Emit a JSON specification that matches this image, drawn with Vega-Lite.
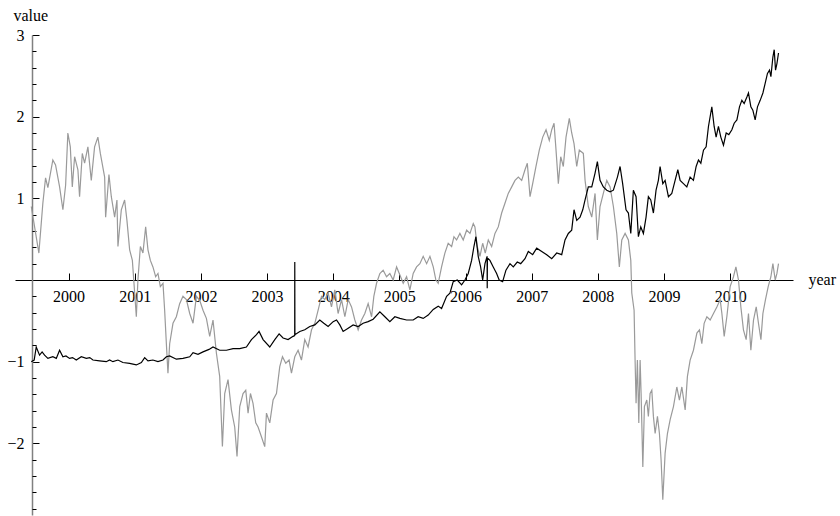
{
  "$schema": "https://vega.github.io/schema/vega-lite/v6.json",
  "autosize": "none",
  "width": 778,
  "height": 480,
  "padding": {"left": 15, "top": 35, "right": 47, "bottom": 1},
  "background": "white",
  "config": {"view": {"stroke": null}, "font": "Liberation Serif"},
  "datasets": {
    "gray": [
      {"x":1999.436,"v":0.90},{"x":1999.551,"v":0.33},{"x":1999.611,"v":0.94},{"x":1999.652,"v":1.25},{"x":1999.687,"v":1.13},{"x":1999.762,"v":1.47},{"x":1999.803,"v":1.41},{"x":1999.864,"v":1.14},{"x":1999.914,"v":0.86},{"x":1999.955,"v":1.16},{"x":1999.989,"v":1.80},{"x":2000.026,"v":1.63},{"x":2000.056,"v":1.14},{"x":2000.091,"v":1.51},{"x":2000.141,"v":1.35},{"x":2000.166,"v":1.02},{"x":2000.207,"v":1.55},{"x":2000.242,"v":1.43},{"x":2000.292,"v":1.63},{"x":2000.343,"v":1.22},{"x":2000.393,"v":1.63},{"x":2000.443,"v":1.75},{"x":2000.480,"v":1.55},{"x":2000.545,"v":1.26},{"x":2000.560,"v":0.77},{"x":2000.610,"v":1.29},{"x":2000.646,"v":1.02},{"x":2000.696,"v":0.77},{"x":2000.731,"v":0.98},{"x":2000.746,"v":0.41},{"x":2000.797,"v":0.86},{"x":2000.847,"v":0.98},{"x":2000.882,"v":0.73},{"x":2000.923,"v":0.37},{"x":2000.964,"v":0.24},{"x":2000.999,"v":-0.16},{"x":2001.024,"v":-0.45},{"x":2001.048,"v":0.00},{"x":2001.085,"v":0.41},{"x":2001.124,"v":0.33},{"x":2001.165,"v":0.65},{"x":2001.200,"v":0.37},{"x":2001.236,"v":0.24},{"x":2001.275,"v":0.16},{"x":2001.316,"v":0.04},{"x":2001.351,"v":0.08},{"x":2001.387,"v":-0.08},{"x":2001.427,"v":-0.04},{"x":2001.452,"v":-0.37},{"x":2001.478,"v":-0.78},{"x":2001.502,"v":-1.14},{"x":2001.528,"v":-0.78},{"x":2001.578,"v":-0.53},{"x":2001.629,"v":-0.45},{"x":2001.679,"v":-0.29},{"x":2001.729,"v":-0.20},{"x":2001.781,"v":-0.24},{"x":2001.831,"v":-0.41},{"x":2001.881,"v":-0.53},{"x":2001.932,"v":-0.20},{"x":2001.982,"v":-0.25},{"x":2002.032,"v":-0.37},{"x":2002.083,"v":-0.47},{"x":2002.133,"v":-0.69},{"x":2002.183,"v":-0.49},{"x":2002.235,"v":-0.90},{"x":2002.284,"v":-1.18},{"x":2002.325,"v":-2.04},{"x":2002.360,"v":-1.39},{"x":2002.410,"v":-1.22},{"x":2002.461,"v":-1.59},{"x":2002.511,"v":-1.80},{"x":2002.546,"v":-2.16},{"x":2002.587,"v":-1.55},{"x":2002.637,"v":-1.39},{"x":2002.678,"v":-1.35},{"x":2002.713,"v":-1.63},{"x":2002.749,"v":-1.39},{"x":2002.788,"v":-1.51},{"x":2002.829,"v":-1.75},{"x":2002.864,"v":-1.80},{"x":2002.915,"v":-1.92},{"x":2002.965,"v":-2.04},{"x":2002.991,"v":-1.63},{"x":2003.041,"v":-1.75},{"x":2003.091,"v":-1.47},{"x":2003.142,"v":-1.39},{"x":2003.192,"v":-1.06},{"x":2003.233,"v":-0.94},{"x":2003.283,"v":-1.02},{"x":2003.333,"v":-0.98},{"x":2003.369,"v":-1.14},{"x":2003.419,"v":-0.94},{"x":2003.469,"v":-0.86},{"x":2003.520,"v":-0.98},{"x":2003.570,"v":-0.73},{"x":2003.620,"v":-0.82},{"x":2003.672,"v":-0.61},{"x":2003.722,"v":-0.53},{"x":2003.772,"v":-0.37},{"x":2003.823,"v":-0.20},{"x":2003.873,"v":-0.24},{"x":2003.923,"v":-0.16},{"x":2003.974,"v":-0.33},{"x":2004.024,"v":-0.12},{"x":2004.074,"v":-0.41},{"x":2004.126,"v":-0.24},{"x":2004.176,"v":-0.45},{"x":2004.226,"v":-0.24},{"x":2004.277,"v":-0.33},{"x":2004.327,"v":-0.49},{"x":2004.377,"v":-0.61},{"x":2004.428,"v":-0.49},{"x":2004.478,"v":-0.41},{"x":2004.528,"v":-0.29},{"x":2004.580,"v":-0.45},{"x":2004.614,"v":-0.20},{"x":2004.655,"v":-0.04},{"x":2004.705,"v":0.08},{"x":2004.755,"v":0.12},{"x":2004.806,"v":0.04},{"x":2004.856,"v":0.08},{"x":2004.906,"v":0.00},{"x":2004.958,"v":0.16},{"x":2005.008,"v":0.06},{"x":2005.058,"v":-0.04},{"x":2005.109,"v":0.04},{"x":2005.159,"v":-0.12},{"x":2005.209,"v":0.08},{"x":2005.260,"v":0.16},{"x":2005.310,"v":0.20},{"x":2005.360,"v":0.29},{"x":2005.412,"v":0.20},{"x":2005.462,"v":0.29},{"x":2005.512,"v":0.16},{"x":2005.552,"v":0.00},{"x":2005.587,"v":-0.04},{"x":2005.638,"v":0.16},{"x":2005.688,"v":0.33},{"x":2005.738,"v":0.45},{"x":2005.790,"v":0.41},{"x":2005.825,"v":0.53},{"x":2005.865,"v":0.49},{"x":2005.915,"v":0.57},{"x":2005.965,"v":0.49},{"x":2006.017,"v":0.61},{"x":2006.067,"v":0.57},{"x":2006.117,"v":0.69},{"x":2006.142,"v":0.65},{"x":2006.177,"v":0.41},{"x":2006.218,"v":0.29},{"x":2006.259,"v":0.45},{"x":2006.298,"v":0.33},{"x":2006.344,"v":0.49},{"x":2006.395,"v":0.41},{"x":2006.445,"v":0.57},{"x":2006.495,"v":0.65},{"x":2006.546,"v":0.82},{"x":2006.596,"v":0.94},{"x":2006.646,"v":1.06},{"x":2006.698,"v":1.14},{"x":2006.748,"v":1.22},{"x":2006.798,"v":1.26},{"x":2006.849,"v":1.22},{"x":2006.899,"v":1.35},{"x":2006.934,"v":1.43},{"x":2006.975,"v":1.02},{"x":2007.015,"v":1.18},{"x":2007.065,"v":1.39},{"x":2007.115,"v":1.59},{"x":2007.167,"v":1.75},{"x":2007.217,"v":1.84},{"x":2007.266,"v":1.71},{"x":2007.303,"v":1.84},{"x":2007.338,"v":1.92},{"x":2007.368,"v":1.59},{"x":2007.403,"v":1.18},{"x":2007.439,"v":1.51},{"x":2007.478,"v":1.39},{"x":2007.519,"v":1.75},{"x":2007.569,"v":1.98},{"x":2007.605,"v":1.80},{"x":2007.640,"v":1.67},{"x":2007.681,"v":1.39},{"x":2007.720,"v":1.59},{"x":2007.781,"v":1.55},{"x":2007.807,"v":1.22},{"x":2007.856,"v":0.90},{"x":2007.908,"v":0.77},{"x":2007.958,"v":1.06},{"x":2007.993,"v":0.49},{"x":2008.033,"v":0.90},{"x":2008.083,"v":1.06},{"x":2008.135,"v":1.22},{"x":2008.185,"v":1.14},{"x":2008.235,"v":0.90},{"x":2008.286,"v":0.57},{"x":2008.325,"v":0.16},{"x":2008.362,"v":0.49},{"x":2008.412,"v":0.57},{"x":2008.462,"v":0.49},{"x":2008.498,"v":0.24},{"x":2008.513,"v":-0.16},{"x":2008.548,"v":-0.37},{"x":2008.563,"v":-0.98},{"x":2008.578,"v":-1.51},{"x":2008.598,"v":-0.98},{"x":2008.619,"v":-1.75},{"x":2008.639,"v":-0.98},{"x":2008.654,"v":-1.39},{"x":2008.680,"v":-2.29},{"x":2008.704,"v":-1.55},{"x":2008.740,"v":-1.47},{"x":2008.764,"v":-1.67},{"x":2008.790,"v":-1.39},{"x":2008.816,"v":-1.35},{"x":2008.840,"v":-1.67},{"x":2008.866,"v":-1.88},{"x":2008.901,"v":-1.67},{"x":2008.931,"v":-1.88},{"x":2008.956,"v":-2.20},{"x":2008.982,"v":-2.69},{"x":2009.017,"v":-2.12},{"x":2009.052,"v":-1.88},{"x":2009.093,"v":-1.71},{"x":2009.143,"v":-1.55},{"x":2009.194,"v":-1.31},{"x":2009.233,"v":-1.47},{"x":2009.270,"v":-1.31},{"x":2009.320,"v":-1.59},{"x":2009.354,"v":-1.18},{"x":2009.395,"v":-0.98},{"x":2009.445,"v":-0.86},{"x":2009.497,"v":-0.65},{"x":2009.536,"v":-0.61},{"x":2009.572,"v":-0.78},{"x":2009.607,"v":-0.53},{"x":2009.648,"v":-0.45},{"x":2009.698,"v":-0.49},{"x":2009.748,"v":-0.41},{"x":2009.799,"v":-0.33},{"x":2009.849,"v":-0.24},{"x":2009.875,"v":-0.41},{"x":2009.910,"v":-0.69},{"x":2009.950,"v":-0.45},{"x":2010.000,"v":-0.08},{"x":2010.050,"v":0.04},{"x":2010.087,"v":0.16},{"x":2010.126,"v":0.00},{"x":2010.162,"v":-0.33},{"x":2010.201,"v":-0.61},{"x":2010.242,"v":-0.73},{"x":2010.277,"v":-0.41},{"x":2010.313,"v":-0.86},{"x":2010.353,"v":-0.49},{"x":2010.394,"v":-0.33},{"x":2010.428,"v":-0.53},{"x":2010.465,"v":-0.73},{"x":2010.495,"v":-0.41},{"x":2010.534,"v":-0.24},{"x":2010.575,"v":-0.08},{"x":2010.616,"v":0.04},{"x":2010.646,"v":0.20},{"x":2010.681,"v":0.00},{"x":2010.707,"v":0.08},{"x":2010.731,"v":0.20}
    ],
    "black": [
      {"x":1999.436,"v":-1.00},{"x":1999.480,"v":-0.98},{"x":1999.511,"v":-0.82},{"x":1999.561,"v":-0.92},{"x":1999.600,"v":-0.88},{"x":1999.637,"v":-0.92},{"x":1999.687,"v":-0.96},{"x":1999.762,"v":-0.94},{"x":1999.814,"v":-0.96},{"x":1999.864,"v":-0.86},{"x":1999.914,"v":-0.94},{"x":1999.960,"v":-0.93},{"x":2000.015,"v":-0.96},{"x":2000.060,"v":-0.95},{"x":2000.116,"v":-0.98},{"x":2000.192,"v":-0.94},{"x":2000.268,"v":-0.96},{"x":2000.320,"v":-0.95},{"x":2000.368,"v":-0.98},{"x":2000.469,"v":-0.99},{"x":2000.570,"v":-1.00},{"x":2000.620,"v":-0.98},{"x":2000.670,"v":-1.00},{"x":2000.746,"v":-0.98},{"x":2000.821,"v":-1.01},{"x":2000.923,"v":-1.02},{"x":2001.024,"v":-1.04},{"x":2001.100,"v":-1.01},{"x":2001.150,"v":-0.95},{"x":2001.200,"v":-0.99},{"x":2001.275,"v":-0.98},{"x":2001.351,"v":-1.00},{"x":2001.427,"v":-0.98},{"x":2001.478,"v":-0.94},{"x":2001.528,"v":-0.93},{"x":2001.629,"v":-0.97},{"x":2001.729,"v":-0.96},{"x":2001.831,"v":-0.94},{"x":2001.881,"v":-0.89},{"x":2001.956,"v":-0.91},{"x":2002.032,"v":-0.88},{"x":2002.123,"v":-0.85},{"x":2002.183,"v":-0.82},{"x":2002.284,"v":-0.86},{"x":2002.386,"v":-0.86},{"x":2002.486,"v":-0.84},{"x":2002.587,"v":-0.84},{"x":2002.688,"v":-0.82},{"x":2002.764,"v":-0.73},{"x":2002.840,"v":-0.67},{"x":2002.879,"v":-0.63},{"x":2002.940,"v":-0.73},{"x":2003.041,"v":-0.82},{"x":2003.117,"v":-0.73},{"x":2003.182,"v":-0.66},{"x":2003.242,"v":-0.71},{"x":2003.318,"v":-0.73},{"x":2003.393,"v":-0.69},{"x":2003.418,"v":-0.68},{"x":2003.419,"v":0.22},{"x":2003.421,"v":-0.67},{"x":2003.495,"v":-0.63},{"x":2003.570,"v":-0.61},{"x":2003.646,"v":-0.57},{"x":2003.722,"v":-0.55},{"x":2003.797,"v":-0.49},{"x":2003.858,"v":-0.53},{"x":2003.923,"v":-0.57},{"x":2003.999,"v":-0.51},{"x":2004.050,"v":-0.49},{"x":2004.100,"v":-0.55},{"x":2004.150,"v":-0.63},{"x":2004.226,"v":-0.59},{"x":2004.301,"v":-0.55},{"x":2004.377,"v":-0.57},{"x":2004.452,"v":-0.53},{"x":2004.528,"v":-0.51},{"x":2004.604,"v":-0.48},{"x":2004.705,"v":-0.39},{"x":2004.781,"v":-0.45},{"x":2004.856,"v":-0.51},{"x":2004.932,"v":-0.45},{"x":2005.008,"v":-0.47},{"x":2005.109,"v":-0.49},{"x":2005.209,"v":-0.49},{"x":2005.284,"v":-0.45},{"x":2005.360,"v":-0.47},{"x":2005.436,"v":-0.43},{"x":2005.512,"v":-0.36},{"x":2005.587,"v":-0.32},{"x":2005.638,"v":-0.35},{"x":2005.714,"v":-0.20},{"x":2005.764,"v":-0.16},{"x":2005.814,"v":-0.02},{"x":2005.875,"v":0.00},{"x":2005.941,"v":-0.06},{"x":2005.991,"v":0.00},{"x":2006.041,"v":0.08},{"x":2006.092,"v":0.24},{"x":2006.127,"v":0.41},{"x":2006.157,"v":0.53},{"x":2006.192,"v":0.29},{"x":2006.228,"v":0.16},{"x":2006.259,"v":0.00},{"x":2006.294,"v":0.20},{"x":2006.326,"v":0.29},{"x":2006.328,"v":-0.10},{"x":2006.331,"v":0.27},{"x":2006.369,"v":0.24},{"x":2006.419,"v":0.16},{"x":2006.470,"v":0.08},{"x":2006.509,"v":0.00},{"x":2006.561,"v":-0.02},{"x":2006.611,"v":0.12},{"x":2006.672,"v":0.20},{"x":2006.722,"v":0.16},{"x":2006.782,"v":0.22},{"x":2006.834,"v":0.20},{"x":2006.899,"v":0.26},{"x":2006.949,"v":0.35},{"x":2007.015,"v":0.31},{"x":2007.076,"v":0.39},{"x":2007.152,"v":0.35},{"x":2007.227,"v":0.31},{"x":2007.303,"v":0.26},{"x":2007.378,"v":0.33},{"x":2007.454,"v":0.31},{"x":2007.504,"v":0.49},{"x":2007.554,"v":0.57},{"x":2007.605,"v":0.61},{"x":2007.640,"v":0.86},{"x":2007.681,"v":0.73},{"x":2007.731,"v":0.77},{"x":2007.772,"v":0.86},{"x":2007.807,"v":0.98},{"x":2007.856,"v":1.14},{"x":2007.908,"v":1.14},{"x":2007.958,"v":1.31},{"x":2007.993,"v":1.45},{"x":2008.033,"v":1.22},{"x":2008.083,"v":1.14},{"x":2008.135,"v":1.10},{"x":2008.185,"v":1.08},{"x":2008.235,"v":1.10},{"x":2008.296,"v":1.26},{"x":2008.336,"v":1.39},{"x":2008.375,"v":1.18},{"x":2008.426,"v":0.86},{"x":2008.462,"v":0.82},{"x":2008.498,"v":0.57},{"x":2008.537,"v":1.10},{"x":2008.578,"v":1.02},{"x":2008.613,"v":0.53},{"x":2008.649,"v":0.65},{"x":2008.689,"v":0.57},{"x":2008.729,"v":0.77},{"x":2008.764,"v":1.02},{"x":2008.800,"v":0.98},{"x":2008.840,"v":0.82},{"x":2008.880,"v":1.10},{"x":2008.915,"v":1.22},{"x":2008.941,"v":1.39},{"x":2008.982,"v":1.18},{"x":2009.017,"v":1.22},{"x":2009.067,"v":1.02},{"x":2009.118,"v":1.06},{"x":2009.168,"v":1.22},{"x":2009.209,"v":1.35},{"x":2009.244,"v":1.22},{"x":2009.294,"v":1.18},{"x":2009.345,"v":1.14},{"x":2009.395,"v":1.26},{"x":2009.445,"v":1.22},{"x":2009.486,"v":1.39},{"x":2009.521,"v":1.47},{"x":2009.557,"v":1.43},{"x":2009.597,"v":1.59},{"x":2009.637,"v":1.63},{"x":2009.672,"v":1.88},{"x":2009.723,"v":2.12},{"x":2009.758,"v":1.88},{"x":2009.788,"v":1.75},{"x":2009.823,"v":1.88},{"x":2009.859,"v":1.75},{"x":2009.899,"v":1.65},{"x":2009.940,"v":1.80},{"x":2009.980,"v":1.78},{"x":2010.026,"v":1.84},{"x":2010.061,"v":1.92},{"x":2010.102,"v":1.96},{"x":2010.141,"v":2.12},{"x":2010.177,"v":2.20},{"x":2010.212,"v":2.16},{"x":2010.253,"v":2.24},{"x":2010.277,"v":2.29},{"x":2010.313,"v":2.12},{"x":2010.343,"v":2.08},{"x":2010.378,"v":1.96},{"x":2010.413,"v":2.12},{"x":2010.454,"v":2.20},{"x":2010.495,"v":2.29},{"x":2010.530,"v":2.41},{"x":2010.564,"v":2.53},{"x":2010.595,"v":2.57},{"x":2010.616,"v":2.49},{"x":2010.646,"v":2.73},{"x":2010.666,"v":2.82},{"x":2010.686,"v":2.57},{"x":2010.707,"v":2.65},{"x":2010.731,"v":2.78}
    ]
  },
  "resolve": {"axis": {"y": "independent"}},
  "layer": [
    {
      "data": {"name": "gray"},
      "mark": {"type": "line", "color": "#9a9a9a", "strokeWidth": 1.2, "interpolate": "linear"},
      "encoding": {
        "x": {
          "field": "x", "type": "quantitative",
          "scale": {"domain": [1999.19, 2010.95], "nice": false, "zero": false},
          "axis": {
            "orient": "bottom", "offset": -235,
            "values": [2000, 2001, 2002, 2003, 2004, 2005, 2006, 2007, 2008, 2009, 2010],
            "format": "d", "grid": false,
            "tickSize": -7, "tickColor": "#000000", "tickWidth": 1,
            "domainColor": "#000000", "domainWidth": 1,
            "labelFont": "Liberation Serif", "labelFontSize": 16, "labelColor": "#000000",
            "labelPadding": 15, "labelFlush": false, "labelOverlap": false,
            "title": "year", "titleFont": "Liberation Serif", "titleFontSize": 16, "titleFontWeight": "normal",
            "titleColor": "#000000", "titleX": 793, "titleY": 4, "titleAlign": "left", "titleBaseline": "alphabetic"
          }
        },
        "y": {
          "field": "v", "type": "quantitative",
          "scale": {"domain": [-2.8776, 3], "nice": false, "zero": false},
          "axis": {
            "orient": "left", "offset": -17,
            "values": [-2, -1, 0, 1, 2, 3],
            "labelExpr": "datum.value == 0 ? '' : datum.label",
            "grid": false,
            "tickSize": -7, "tickColor": "#000000", "tickWidth": 1,
            "domainColor": "#808080", "domainWidth": 1.5,
            "labelFont": "Liberation Serif", "labelFontSize": 16, "labelColor": "#000000",
            "labelPadding": 15, "labelFlush": false, "labelOverlap": false,
            "title": "value", "titleFont": "Liberation Serif", "titleFontSize": 16, "titleFontWeight": "normal",
            "titleColor": "#000000", "titleAngle": 0, "titleX": -19, "titleY": -15, "titleAlign": "left", "titleBaseline": "alphabetic"
          }
        }
      }
    },
    {
      "data": {"name": "black"},
      "mark": {"type": "line", "color": "#000000", "strokeWidth": 1.2, "interpolate": "linear"},
      "encoding": {
        "x": {"field": "x", "type": "quantitative"},
        "y": {
          "field": "v", "type": "quantitative",
          "axis": {
            "orient": "left", "offset": -17,
            "values": [-2.8, -2.6, -2.4, -2.2, -1.8, -1.6, -1.4, -1.2, -0.8, -0.6, -0.4, -0.2, 0.2, 0.4, 0.6, 0.8, 1.2, 1.4, 1.6, 1.8, 2.2, 2.4, 2.6, 2.8],
            "labels": false, "domain": false, "grid": false,
            "tickSize": -4, "tickColor": "#000000", "tickWidth": 1,
            "title": null
          }
        }
      }
    }
  ]
}
